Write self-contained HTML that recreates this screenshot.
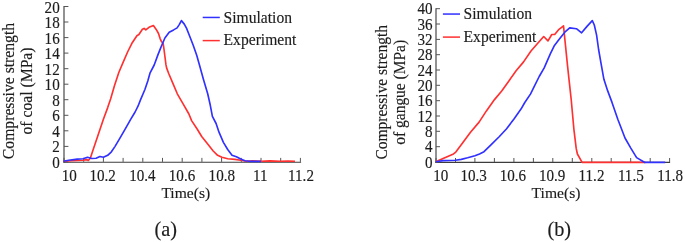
<!DOCTYPE html>
<html><head><meta charset="utf-8"><title>Compressive strength</title>
<style>
html,body{margin:0;padding:0;background:#fff;}
svg{display:block}
text{font-family:"Liberation Serif","Times New Roman",serif;fill:#1c1c1c;stroke:#1c1c1c;stroke-width:0.15px}
.t{font-size:15.1px}
.l{font-size:15.6px}
.c{font-size:20.3px}
</style></head><body>
<svg width="685" height="242" viewBox="0 0 685 242">
<rect width="685" height="242" fill="#fff"/>

<g stroke="#484848" stroke-width="1.2" fill="none">
<path d="M64.0,6.0V162.8"/><path d="M63.4,162.3H301.1" stroke="#3c3c3c" stroke-width="1.1"/>
<path d="M64.0,161.9h4.4M64.0,146.4h4.4M64.0,130.8h4.4M64.0,115.3h4.4M64.0,99.7h4.4M64.0,84.2h4.4M64.0,68.7h4.4M64.0,53.1h4.4M64.0,37.6h4.4M64.0,22.0h4.4M64.0,6.5h4.4M64.0,161.9v-4M83.7,161.9v-4M103.4,161.9v-4M123.1,161.9v-4M142.8,161.9v-4M162.5,161.9v-4M182.2,161.9v-4M201.9,161.9v-4M221.6,161.9v-4M241.3,161.9v-4M261.0,161.9v-4M280.7,161.9v-4M300.4,161.9v-4" stroke-width="1" stroke="#555"/>
</g>
<text class="t" transform="translate(59.7,167.9) scale(1,1.06)" text-anchor="end">0</text>
<text class="t" transform="translate(59.7,152.4) scale(1,1.06)" text-anchor="end">2</text>
<text class="t" transform="translate(59.7,136.8) scale(1,1.06)" text-anchor="end">4</text>
<text class="t" transform="translate(59.7,121.3) scale(1,1.06)" text-anchor="end">6</text>
<text class="t" transform="translate(59.7,105.7) scale(1,1.06)" text-anchor="end">8</text>
<text class="t" transform="translate(59.7,90.2) scale(1,1.06)" text-anchor="end">10</text>
<text class="t" transform="translate(59.7,74.7) scale(1,1.06)" text-anchor="end">12</text>
<text class="t" transform="translate(59.7,59.1) scale(1,1.06)" text-anchor="end">14</text>
<text class="t" transform="translate(59.7,43.6) scale(1,1.06)" text-anchor="end">16</text>
<text class="t" transform="translate(59.7,28.0) scale(1,1.06)" text-anchor="end">18</text>
<text class="t" transform="translate(59.7,12.5) scale(1,1.06)" text-anchor="end">20</text>
<text class="t" transform="translate(61.8,180.8) scale(1,1.06)" text-anchor="start">10</text>
<text class="t" transform="translate(102.6,180.8) scale(1,1.06)" text-anchor="middle">10.2</text>
<text class="t" transform="translate(142.4,180.8) scale(1,1.06)" text-anchor="middle">10.4</text>
<text class="t" transform="translate(182.0,180.8) scale(1,1.06)" text-anchor="middle">10.6</text>
<text class="t" transform="translate(221.8,180.8) scale(1,1.06)" text-anchor="middle">10.8</text>
<text class="t" transform="translate(260.3,180.8) scale(1,1.06)" text-anchor="middle">11</text>
<text class="t" transform="translate(301.0,180.8) scale(1,1.06)" text-anchor="middle">11.2</text>
<text class="l" transform="translate(185.8,198.2) scale(1,1)" text-anchor="middle">Time(s)</text>
<text class="l" style="font-size:15.7px" transform="translate(14.3,91.0) rotate(-90) scale(1,1.06)" text-anchor="middle">Compressive strength</text>
<text class="l" style="font-size:15.7px" transform="translate(32.4,91.0) rotate(-90) scale(1,1.06)" text-anchor="middle">of coal (MPa)</text>
<polyline points="63.5,161.3 71.6,160.8 83.1,160.2 86.6,159.6 88.3,160.5 90.3,158.2 93.2,149.5 97.6,136.5 103.4,119.2 107.7,107.6 110.6,98.9 114.6,85.2 118.9,72.2 123.2,62.1 127.6,52.0 131.9,43.3 136.9,35.7 138.9,34.5 142.4,29.3 144.1,28.4 145.8,29.9 149.0,27.3 153.4,25.5 156.2,29.4 158.5,33.5 160.1,38.6 161.5,41.6 163.2,43.7 163.9,48.6 164.8,55.5 165.9,64.4 166.6,67.9 168.7,73.5 173.0,83.6 177.3,93.8 183.1,103.9 188.9,114.0 191.6,120.6 197.3,129.3 201.7,136.5 207.5,143.8 213.2,151.0 217.6,155.3 221.9,157.3 227.7,158.8 234.9,159.4 240.7,160.2 246.5,161.3 252.3,160.8 260.9,161.3 270.0,160.9 280.0,161.3 288.0,161.0 295.0,161.3" fill="none" stroke="#ff3030" stroke-width="1.65" stroke-linejoin="round"/>
<polyline points="63.5,161.3 68.7,160.2 77.3,159.1 83.1,158.8 87.5,157.3 91.8,158.5 96.1,158.2 99.9,156.5 103.4,157.3 107.7,155.3 111.4,151.8 114.9,146.6 119.2,139.4 125.0,129.3 130.8,119.2 135.1,112.0 138.0,106.2 140.6,99.6 144.9,89.5 147.8,80.9 150.1,72.8 154.2,65.0 157.9,54.9 160.8,47.6 164.9,38.0 169.2,32.2 173.6,29.9 177.1,27.9 179.4,24.4 181.4,20.6 184.3,24.1 186.6,28.4 189.5,35.7 193.2,45.2 196.7,55.3 199.6,65.4 203.4,79.3 207.7,93.8 210.3,105.3 212.4,116.3 216.1,123.5 219.0,132.2 223.4,142.3 227.7,149.5 232.0,155.3 236.4,156.8 240.7,159.1 245.0,160.8 249.4,161.3 261.0,161.3" fill="none" stroke="#3030ff" stroke-width="1.65" stroke-linejoin="round"/>
<path d="M202.7,17.45H219.8" stroke="#3030ff" stroke-width="1.5"/>
<path d="M202.7,40.6H219.8" stroke="#ff3030" stroke-width="1.5"/>
<text class="l" transform="translate(223.6,22.6) scale(1,1.06)" text-anchor="start">Simulation</text>
<text class="l" transform="translate(223.6,45.4) scale(1,1.06)" text-anchor="start">Experiment</text>
<text class="c" transform="translate(165.8,236.0) scale(1,1)" text-anchor="middle">(a)</text>
<g stroke="#484848" stroke-width="1.2" fill="none">
<path d="M436.0,8.2V162.9"/><path d="M435.4,162.4H670.1" stroke="#3c3c3c" stroke-width="1.1"/>
<path d="M436.0,162.0h4M436.0,146.7h4M436.0,131.3h4M436.0,116.0h4M436.0,100.7h4M436.0,85.3h4M436.0,70.0h4M436.0,54.7h4M436.0,39.4h4M436.0,24.0h4M436.0,8.7h4M436.0,162.0v-4M455.5,162.0v-4M474.9,162.0v-4M494.4,162.0v-4M513.9,162.0v-4M533.4,162.0v-4M552.8,162.0v-4M572.3,162.0v-4M591.8,162.0v-4M611.2,162.0v-4M630.7,162.0v-4M650.2,162.0v-4M669.6,162.0v-4" stroke-width="1" stroke="#555"/>
</g>
<text class="t" transform="translate(432.5,167.6) scale(1,1.06)" text-anchor="end">0</text>
<text class="t" transform="translate(432.5,152.3) scale(1,1.06)" text-anchor="end">4</text>
<text class="t" transform="translate(432.5,136.9) scale(1,1.06)" text-anchor="end">8</text>
<text class="t" transform="translate(432.5,121.6) scale(1,1.06)" text-anchor="end">12</text>
<text class="t" transform="translate(432.5,106.3) scale(1,1.06)" text-anchor="end">16</text>
<text class="t" transform="translate(432.5,90.9) scale(1,1.06)" text-anchor="end">20</text>
<text class="t" transform="translate(432.5,75.6) scale(1,1.06)" text-anchor="end">24</text>
<text class="t" transform="translate(432.5,60.3) scale(1,1.06)" text-anchor="end">28</text>
<text class="t" transform="translate(432.5,45.0) scale(1,1.06)" text-anchor="end">32</text>
<text class="t" transform="translate(432.5,29.6) scale(1,1.06)" text-anchor="end">36</text>
<text class="t" transform="translate(432.5,14.3) scale(1,1.06)" text-anchor="end">40</text>
<text class="t" transform="translate(433.3,180.8) scale(1,1.06)" text-anchor="start">10</text>
<text class="t" transform="translate(473.6,180.8) scale(1,1.06)" text-anchor="middle">10.3</text>
<text class="t" transform="translate(512.9,180.8) scale(1,1.06)" text-anchor="middle">10.6</text>
<text class="t" transform="translate(552.2,180.8) scale(1,1.06)" text-anchor="middle">10.9</text>
<text class="t" transform="translate(591.5,180.8) scale(1,1.06)" text-anchor="middle">11.2</text>
<text class="t" transform="translate(630.8,180.8) scale(1,1.06)" text-anchor="middle">11.5</text>
<text class="t" transform="translate(670.1,180.8) scale(1,1.06)" text-anchor="middle">11.8</text>
<text class="l" transform="translate(556,198.2) scale(1,1)" text-anchor="middle">Time(s)</text>
<text class="l" style="font-size:15.48px" transform="translate(386.8,92.3) rotate(-90) scale(1,1.06)" text-anchor="middle">Compressive strength</text>
<text class="l" style="font-size:15.48px" transform="translate(404.8,92.3) rotate(-90) scale(1,1.06)" text-anchor="middle">of gangue (MPa)</text>
<polyline points="435.8,161.8 443.1,158.5 453.5,153.9 455.8,152.1 461.8,144.0 470.5,132.2 479.1,122.1 486.4,110.9 494.5,99.6 501.7,91.0 508.9,80.9 516.1,70.7 523.4,62.1 531.0,51.0 537.3,43.8 543.7,36.5 548.0,40.9 551.8,34.5 554.7,34.5 559.0,29.3 563.5,25.8 567.6,66.4 569.0,79.3 571.2,99.5 573.9,129.3 576.2,148.4 577.4,154.0 582.1,162.3 645.3,162.3" fill="none" stroke="#ff3030" stroke-width="1.65" stroke-linejoin="round"/>
<polyline points="435.8,161.8 443.1,160.6 455.4,160.3 461.3,159.4 467.6,157.8 474.9,155.7 479.5,153.9 484.0,151.7 490.7,145.2 499.4,136.5 506.6,128.7 513.8,119.2 521.0,109.1 524.8,102.5 530.6,93.9 534.9,85.2 539.2,76.5 544.2,67.9 550.3,53.9 554.1,46.1 559.0,39.4 564.8,32.2 569.7,27.9 576.4,28.7 581.6,32.8 587.0,26.4 592.3,20.6 594.3,25.0 596.6,35.1 598.6,49.5 601.3,64.9 603.9,79.3 607.7,90.9 612.0,102.4 617.8,119.2 625.0,138.0 630.8,148.1 636.6,157.6 644.4,162.3 665.2,162.3" fill="none" stroke="#3030ff" stroke-width="1.65" stroke-linejoin="round"/>
<path d="M442.9,14.05H460" stroke="#3030ff" stroke-width="1.5"/>
<path d="M442.9,37.1H460" stroke="#ff3030" stroke-width="1.5"/>
<text class="l" transform="translate(463.6,19.1) scale(1,1.06)" text-anchor="start">Simulation</text>
<text class="l" transform="translate(463.6,41.8) scale(1,1.06)" text-anchor="start">Experiment</text>
<text class="c" transform="translate(559.3,236.0) scale(1,1)" text-anchor="middle">(b)</text>
</svg></body></html>
